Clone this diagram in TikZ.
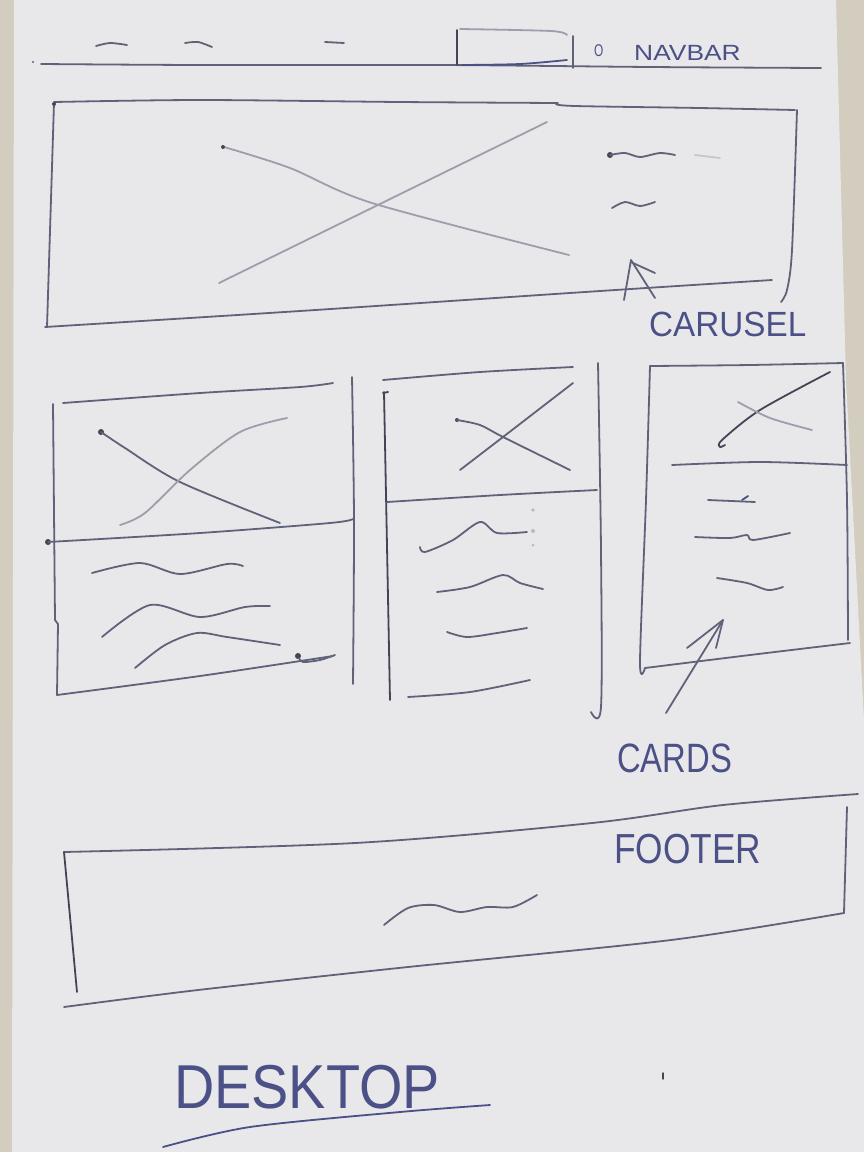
\documentclass[tikz,border=0pt]{standalone}
\usepackage{fontspec}
\newfontfamily\hand{Liberation Sans}
\definecolor{ink}{HTML}{5F6279}
\definecolor{bluink}{HTML}{4B5087}
\definecolor{paper}{HTML}{E8E8EA}
\definecolor{desk}{HTML}{D3CDBF}
\begin{document}
\begin{tikzpicture}[x=1pt,y=-1pt,
  pen/.style={draw=ink,line width=1.8pt,line cap=round,line join=round},
  soft/.style={pen,draw=ink!55!paper},
  dark/.style={pen,draw=ink!70!black},
  blue/.style={pen,draw=bluink},
  lbl/.style={text=bluink,inner sep=0pt,anchor=west}]
\useasboundingbox (0,0) rectangle (864,1152);
% sheet of paper on the desk
\fill[desk] (0,0) rectangle (864,1152);
\fill[paper] (14,0) -- (836,0) -- (846,380) -- (864,720) -- (864,1152) -- (12,1152) -- cycle;

% ---------------- navbar ----------------
\draw[pen] plot[smooth] coordinates {(96,46)(110,43)(127,45)};
\draw[pen] plot[smooth] coordinates {(185,43)(198,42)(212,47)};
\draw[pen] (325,42) -- (344,43);
\fill[ink] (33,62) circle (1.2);
\draw[pen] plot[smooth] coordinates {(41,64)(200,65)(441,65)(650,67)(821,68)};
% search box
\draw[dark] (457,30) -- (457,65);
\draw[soft] plot[smooth] coordinates {(460,29)(551,31)(567,35)};
\draw[blue] plot[smooth] coordinates {(462,65)(520,64)(567,60)};
\draw[pen] (573,36) -- (573,68);
\node[lbl,font=\hand\fontsize{17}{17}\selectfont] (navicon) at (594,51) {\scalebox{0.7}[1]{O}};
\node[lbl,font=\hand\fontsize{22}{22}\selectfont] (navlabel) at (634,53) {\scalebox{1.2}[1]{NAVBAR}};

% ---------------- carousel ----------------
\draw[pen] plot[smooth] coordinates {(54,102)(200,100)(400,102)(558,103)};
\draw[pen] plot[smooth] coordinates {(556,104)(575,106)(700,108)(795,110)};
\draw[pen] (54,103) -- (47,327);
\fill[ink!70!black] (54,104) circle (2);
\draw[pen] plot[smooth] coordinates {(45,327)(300,311)(600,291)(772,280)};
\draw[pen] plot[smooth] coordinates {(797,110)(792,250)(787,290)(781,302)};
% image placeholder cross
\draw[soft] plot[smooth] coordinates {(224,147)(290,168)(372,203)(569,255)};
\draw[soft] (219,283) -- (547,122);
\fill[ink!70!black] (223,147) circle (2);
% text lines
\fill[ink!70!black] (610,155) circle (3);
\draw[pen] plot[smooth] coordinates {(610,155)(625,153)(640,157)(660,153)(675,155)};
\draw[soft,draw=ink!25!paper] plot[smooth] coordinates {(695,155)(720,158)};
\draw[pen] plot[smooth] coordinates {(612,208)(625,202)(640,206)(655,202)};
% pointer to the label
\coordinate (cartip) at (631,260);
\draw[pen] (624,300) -- (cartip) -- (655,298);
\draw[pen] (633,263) -- (655,273);
\node[lbl,font=\hand\fontsize{35}{35}\selectfont] (carlabel) at (649,324) {\scalebox{0.95}[1]{CARUSEL}};

% ---------------- card 1 ----------------
\draw[pen] plot[smooth] coordinates {(63,403)(200,393)(300,387)(333,383)};
\draw[pen] (53,404) -- (55,620) -- (58,624) -- (57,695);
\draw[pen] plot[smooth] coordinates {(57,695)(200,676)(333,656)};
\draw[pen] plot[smooth] coordinates {(352,377)(354,520)(353,684)};
\fill[ink!70!black] (48,542) circle (3);
\draw[pen] plot[smooth] coordinates {(48,542)(200,533)(330,523)(353,519)};
\fill[ink!70!black] (101,432) circle (3);
\draw[pen] plot[smooth] coordinates {(101,432)(125,448)(180,482)(280,523)};
\draw[soft] plot[smooth] coordinates {(120,525)(145,513)(190,470)(240,432)(287,418)};
\draw[pen] plot[smooth] coordinates {(92,573)(140,563)(180,574)(227,564)(243,566)};
\draw[pen] plot[smooth] coordinates {(102,637)(150,605)(200,617)(245,607)(270,606)};
\draw[pen] plot[smooth] coordinates {(135,668)(165,645)(197,633)(227,637)(280,645)};
\fill[ink!70!black] (298,656) circle (3);
\draw[pen] plot[smooth] coordinates {(299,658)(303,662)(320,660)(335,655)};

% ---------------- card 2 ----------------
\draw[pen] plot[smooth] coordinates {(383,380)(480,372)(573,367)};
\draw[dark] (384,392) -- (390,700);
\draw[dark] (383,393) -- (388,392);
\draw[pen] plot[smooth] coordinates {(387,502)(500,495)(597,490)};
\draw[pen] plot[smooth] coordinates {(598,363)(601,550)(601,707)(591,712)};
\fill[ink!70!black] (457,420) circle (2);
\draw[pen] plot[smooth] coordinates {(457,420)(480,425)(503,437)(570,470)};
\draw[pen] plot[smooth] coordinates {(460,470)(503,437)(573,383)};
\draw[pen] plot[smooth] coordinates {(420,547)(425,552)(453,540)(480,522)(497,533)(527,532)};
\draw[pen] plot[smooth] coordinates {(437,592)(470,587)(503,575)(520,583)(543,589)};
\draw[pen] plot[smooth] coordinates {(447,632)(467,637)(497,633)(527,628)};
\draw[pen] plot[smooth] coordinates {(408,697)(470,692)(530,680)};
\fill[ink!35!paper] (533,510) circle (1.8) (533,531) circle (2) (533,545) circle (1.5);

% ---------------- card 3 ----------------
\draw[pen] plot[smooth] coordinates {(650,366)(750,365)(843,363)};
\draw[pen] plot[smooth] coordinates {(650,366)(646,500)(640,662)(645,668)};
\draw[pen] plot[smooth] coordinates {(645,668)(750,655)(850,643)};
\draw[pen] plot[smooth] coordinates {(843,363)(847,500)(848,640)};
\draw[pen] plot[smooth] coordinates {(672,465)(760,462)(847,465)};
\draw[dark] plot[smooth] coordinates {(725,445)(720,447)(722,440)(760,410)(830,372)};
\draw[soft] plot[smooth] coordinates {(738,402)(770,418)(812,430)};
\draw[pen] (708,500) -- (755,502);
\draw[blue] (742,500) -- (748,496);
\draw[pen] plot[smooth] coordinates {(695,537)(730,538)(747,535)(753,540)(790,533)};
\draw[pen] plot[smooth] coordinates {(717,578)(747,583)(768,590)(783,587)};
% pointer from the cards label
\coordinate (cardtail) at (666,713);
\coordinate (cardtip) at (723,620);
\draw[pen] (cardtail) -- (cardtip);
\draw[pen] (687,648) -- (cardtip) -- (716,648);
\node[lbl,font=\hand\fontsize{41}{41}\selectfont] (cardslabel) at (617,758) {\scalebox{0.8}[1]{CARDS}};

% ---------------- footer ----------------
\draw[pen] plot[smooth] coordinates {(64,852)(355,843)(592,823)(723,805)(858,794)};
\draw[dark] (64,852) -- (77,992);
\draw[pen] (847,807) -- (844,913);
\draw[pen] plot[smooth] coordinates {(844,913)(671,940)(408,967)(198,990)(64,1007)};
\draw[pen] plot[smooth] coordinates {(384,925)(408,908)(434,905)(460,912)(487,907)(513,907)(537,895)};
\node[lbl,font=\hand\fontsize{42}{42}\selectfont] (footlabel) at (614,849) {\scalebox{0.84}[1]{FOOTER}};

% ---------------- page title ----------------
\node[lbl,font=\hand\fontsize{62}{62}\selectfont] (desklabel) at (174,1087) {\scalebox{0.9}[1]{DESKTOP}};
\draw[blue] plot[smooth] coordinates {(163,1147)(250,1127)(400,1112)(490,1105)};
\draw[dark,line width=1.4pt] (663,1073) -- (663,1079);
\end{tikzpicture}
\end{document}
